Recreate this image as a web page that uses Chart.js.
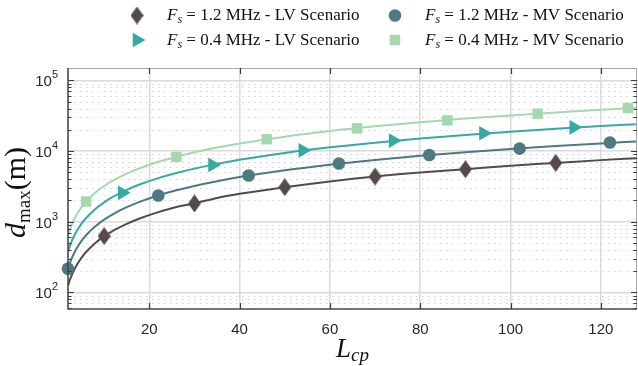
<!DOCTYPE html>
<html>
<head>
<meta charset="utf-8">
<script src="https://cdn.jsdelivr.net/npm/chart.js@4.4.1/dist/chart.umd.min.js"></script>
<style>
html, body { margin: 0; padding: 0; background: #fff; }
#wrap { width: 638px; height: 366px; }
</style>
</head>
<body>
<div id="wrap"><canvas id="chart" width="638" height="366"></canvas></div>
<script>
// L_cp sample points used to draw the smooth curves
const curveL = [2, 2.5, 3, 4, 5, 6, 8, 10, 12, 15, 18, 22, 26, 30, 35, 40, 50, 60, 70, 80, 90, 100, 110, 120, 128];

// d_max (m)
const lv12Curve = [124, 155, 186, 248, 310, 372, 496, 625, 744, 930, 1116, 1364, 1612, 1810, 2170, 2480, 3080, 3720, 4360, 4960, 5530, 6200, 6790, 7440, 7940];
const mv12Curve = [216, 268, 321, 428, 535, 642, 856, 1070, 1284, 1605, 1926, 2350, 2780, 3210, 3745, 4280, 5350, 6420, 7490, 8560, 9630, 10700, 11770, 12840, 13700];
const lv04Curve = [376, 470, 564, 752, 940, 1128, 1504, 1880, 2256, 2820, 3384, 4136, 4888, 5640, 6580, 7520, 9400, 11280, 13160, 15040, 16920, 18800, 20680, 22560, 24060];
const mv04Curve = [640, 800, 960, 1280, 1600, 1930, 2560, 3200, 3840, 4800, 5760, 7040, 8260, 9600, 11200, 12800, 16000, 19200, 22400, 25600, 28800, 32000, 35200, 38400, 41000];

// marker positions
const lv12MarkL = [10, 30, 50, 70, 90, 110];
const lv12Mark = [625, 1810, 3080, 4360, 5530, 6790];
const mv12MarkL = [2, 22, 42, 62, 82, 102, 122];
const mv12Mark = [216, 2350, 4500, 6650, 8810, 10840, 13190];
const lv04MarkL = [14, 34, 54, 74, 94, 114];
const lv04Mark = [2560, 6370, 10260, 14070, 17870, 21680];
const mv04MarkL = [6, 26, 46, 66, 86, 106, 126];
const mv04Mark = [1932, 8260, 14690, 20990, 27230, 33820, 40740];

const seriesLabels = [
    'F_s = 1.2 MHz - LV Scenario',
    'F_s = 1.2 MHz - MV Scenario',
    'F_s = 0.4 MHz - LV Scenario',
    'F_s = 0.4 MHz - MV Scenario'
];

const xTicks = [20, 40, 60, 80, 100, 120];
const yMajorTicks = [100, 1000, 10000, 100000];
const yTickExponents = ['2', '3', '4', '5'];

const colLV12 = '#554a4b';
const colMV12 = '#4e7981';
const colLV04 = '#36a9a4';
const colMV04 = '#a6d8ae';

const SANS = '"Liberation Sans", Arial, sans-serif';
const SERIF = '"Liberation Serif", "Times New Roman", serif';

// minor log ticks: 2..9 times each decade, inside the axis range
const yMin = 58, yMax = 150000;
const yMinorTicks = [];
[10, 100, 1000, 10000].forEach(d => {
    for (let k = 2; k <= 9; k++) {
        const v = k * d;
        if (v >= yMin && v <= yMax) yMinorTicks.push(v);
    }
});
const yAllTicks = yMinorTicks.concat(yMajorTicks).sort((a, b) => a - b);

function pts(xs, ys) {
    return xs.map((x, i) => ({ x: x, y: ys[i] }));
}

function diamondImg(w, h, color) {
    const c = document.createElement('canvas');
    c.width = w;
    c.height = h;
    const g = c.getContext('2d');
    g.fillStyle = color;
    g.beginPath();
    g.moveTo(w / 2, 0);
    g.lineTo(w, h / 2);
    g.lineTo(w / 2, h);
    g.lineTo(0, h / 2);
    g.closePath();
    g.fill();
    return c;
}

const diamond = diamondImg(13, 18, colLV12);

const lineDs = (data, color) => ({
    data: pts(curveL, data),
    borderColor: color,
    borderWidth: 2,
    pointRadius: 0,
    cubicInterpolationMode: 'monotone',
    fill: false,
    order: 1
});

const markDs = (label, xs, ys, color, style, radius, rotation) => ({
    label: label,
    data: pts(xs, ys),
    showLine: false,
    backgroundColor: color,
    borderColor: color,
    borderWidth: 0,
    pointStyle: style,
    pointRadius: radius,
    pointHoverRadius: radius,
    pointRotation: rotation || 0,
    clip: false,
    order: 0
});

const markers = [
    markDs(seriesLabels[0], lv12MarkL, lv12Mark, colLV12, diamond, 7, 0),
    markDs(seriesLabels[1], mv12MarkL, mv12Mark, colMV12, 'circle', 6.3, 0),
    markDs(seriesLabels[2], lv04MarkL, lv04Mark, colLV04, 'triangle', 8.5, 90),
    markDs(seriesLabels[3], mv04MarkL, mv04Mark, colMV04, 'rect', 7.4, 0)
];

// draw a list of text runs one after another
function drawRuns(ctx, runs, x, y) {
    let cx = x;
    runs.forEach(r => {
        ctx.font = r.font;
        ctx.fillText(r.t, cx, y + (r.dy || 0));
        cx += ctx.measureText(r.t).width;
    });
    return cx - x;
}
function runsWidth(ctx, runs) {
    let w = 0;
    runs.forEach(r => { ctx.font = r.font; w += ctx.measureText(r.t).width; });
    return w;
}

const decorPlugin = {
    id: 'decor',
    beforeDatasetsDraw(chart) {
        const { ctx, chartArea: a } = chart;
        const y = chart.scales.y;
        ctx.save();
        ctx.strokeStyle = '#d2d2d2';
        ctx.lineWidth = 1;
        ctx.setLineDash([1.5, 4.5]);
        yMinorTicks.forEach(v => {
            const py = Math.round(y.getPixelForValue(v)) + 0.5;
            ctx.beginPath();
            ctx.moveTo(a.left, py);
            ctx.lineTo(a.right, py);
            ctx.stroke();
        });
        ctx.restore();
    },
    afterDatasetsDraw(chart) {
        const { ctx, chartArea: a } = chart;
        const x = chart.scales.x, y = chart.scales.y;
        ctx.save();
        // box
        ctx.lineWidth = 1;
        ctx.strokeStyle = '#a8a8a8';
        ctx.beginPath();
        ctx.moveTo(a.left, a.top + 0.5);
        ctx.lineTo(a.right, a.top + 0.5);
        ctx.moveTo(a.right - 0.5, a.top);
        ctx.lineTo(a.right - 0.5, a.bottom);
        ctx.stroke();
        ctx.lineWidth = 1.6;
        ctx.strokeStyle = '#4a4a4a';
        ctx.beginPath();
        ctx.moveTo(a.left, a.top);
        ctx.lineTo(a.left, a.bottom);
        ctx.lineTo(a.right, a.bottom);
        ctx.stroke();
        // inward ticks
        ctx.lineWidth = 1.2;
        ctx.strokeStyle = '#3c3c3c';
        ctx.beginPath();
        xTicks.forEach(v => {
            const px = Math.round(x.getPixelForValue(v)) + 0.5;
            ctx.moveTo(px, a.bottom);
            ctx.lineTo(px, a.bottom - 6);
            ctx.moveTo(px, a.top);
            ctx.lineTo(px, a.top + 6);
        });
        yAllTicks.forEach(v => {
            const py = Math.round(y.getPixelForValue(v)) + 0.5;
            const len = yMajorTicks.includes(v) ? 6 : 3.5;
            ctx.moveTo(a.left, py);
            ctx.lineTo(a.left + len, py);
            ctx.moveTo(a.right, py);
            ctx.lineTo(a.right - len, py);
        });
        ctx.stroke();
        ctx.restore();
    },
    afterDraw(chart) {
        const ctx = chart.ctx;
        const a = chart.chartArea;
        const y = chart.scales.y;
        ctx.save();
        ctx.textBaseline = 'alphabetic';

        // y tick labels 10^n
        ctx.fillStyle = '#262626';
        yMajorTicks.forEach((v, i) => {
            const py = y.getPixelForValue(v);
            ctx.font = '11px ' + SANS;
            const ew = ctx.measureText(yTickExponents[i]).width;
            ctx.font = '15px ' + SANS;
            const bw = ctx.measureText('10').width;
            const right = a.left - 10;
            ctx.fillText('10', right - ew - bw, py + 6);
            ctx.font = '11px ' + SANS;
            ctx.fillText(yTickExponents[i], right - ew, py - 2);
        });

        ctx.fillStyle = '#111';
        // x axis title L_cp
        const xr = [
            { t: 'L', font: 'italic 27px ' + SERIF },
            { t: 'cp', font: 'italic 19px ' + SERIF, dy: 4 }
        ];
        const xw = runsWidth(ctx, xr);
        drawRuns(ctx, xr, (a.left + a.right) / 2 - xw / 2, 357);

        // y axis title d_max(m)
        const yr = [
            { t: 'd', font: 'italic 30px ' + SERIF },
            { t: 'max', font: '19px ' + SERIF, dy: 5 },
            { t: '(m)', font: '30px ' + SERIF }
        ];
        const yw = runsWidth(ctx, yr);
        ctx.save();
        ctx.translate(25, (a.top + a.bottom) / 2 + 4);
        ctx.rotate(-Math.PI / 2);
        drawRuns(ctx, yr, -yw / 2, 0);
        ctx.restore();

        // legend
        const spots = [[137, 15.5, 167, 20], [395, 15.5, 425, 20], [137, 40, 167, 45], [395, 40, 425, 45]];
        chart.data.datasets.forEach(ds => {
            if (!ds.label) return;
            const i = seriesLabels.indexOf(ds.label);
            const s = spots[i];
            ctx.fillStyle = ds.backgroundColor;
            ctx.strokeStyle = ds.borderColor;
            Chart.helpers.drawPoint(ctx, {
                pointStyle: ds.pointStyle,
                radius: ds.pointRadius,
                rotation: ds.pointRotation,
                borderWidth: 0
            }, s[0], s[1]);
            const parts = ds.label.split(' = ');
            const runs = [
                { t: 'F', font: 'italic 17px ' + SERIF },
                { t: 's', font: 'italic 12px ' + SERIF, dy: 3 },
                { t: ' = ' + parts[1], font: '17px ' + SERIF }
            ];
            ctx.fillStyle = '#111';
            drawRuns(ctx, runs, s[2], s[3]);
        });
        ctx.restore();
    }
};

new Chart(document.getElementById('chart'), {
    type: 'line',
    data: {
        datasets: [
            lineDs(lv12Curve, colLV12),
            lineDs(mv12Curve, colMV12),
            lineDs(lv04Curve, colLV04),
            lineDs(mv04Curve, colMV04)
        ].concat(markers)
    },
    options: {
        responsive: false,
        animation: false,
        events: [],
        layout: { autoPadding: false, padding: { top: 68, right: 1, left: 0, bottom: 0 } },
        plugins: {
            legend: { display: false },
            tooltip: { enabled: false }
        },
        scales: {
            x: {
                type: 'linear',
                min: 2,
                max: 128,
                afterBuildTicks: s => { s.ticks = xTicks.map(v => ({ value: v })); },
                afterFit: s => { s.height = 57; },
                ticks: {
                    autoSkip: false,
                    maxRotation: 0,
                    padding: 12,
                    color: '#262626',
                    font: { family: SANS, size: 15 }
                },
                grid: { color: '#dadada', lineWidth: 1.5, drawTicks: false },
                border: { display: false }
            },
            y: {
                type: 'logarithmic',
                min: yMin,
                max: yMax,
                afterBuildTicks: s => { s.ticks = yAllTicks.map(v => ({ value: v, major: yMajorTicks.includes(v) })); },
                afterFit: s => { s.width = 68; },
                ticks: {
                    autoSkip: false,
                    padding: 10,
                    callback: () => ''
                },
                grid: {
                    color: c => (c.tick && yMajorTicks.includes(c.tick.value)) ? '#dadada' : 'rgba(0,0,0,0)',
                    lineWidth: 1.5,
                    drawTicks: false
                },
                border: { display: false }
            }
        }
    },
    plugins: [decorPlugin]
});
</script>
</body>
</html>
